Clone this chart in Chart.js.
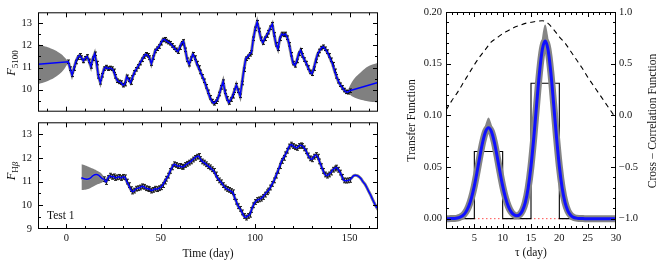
<!DOCTYPE html>
<html><head><meta charset="utf-8">
<script src="https://cdn.jsdelivr.net/npm/chart.js@4.4.0/dist/chart.umd.min.js"></script>
<style>
html,body{margin:0;padding:0;background:#fff;width:664px;height:267px;overflow:hidden}
canvas{position:absolute}
</style></head><body>
<canvas id="cA" width="392" height="124" style="left:0px;top:0px"></canvas>
<canvas id="cB" width="392" height="157" style="left:0px;top:110px"></canvas>
<canvas id="cC" width="284" height="267" style="left:380px;top:0px"></canvas>
<script>
// ---------- DATA ----------
// continuum F5100, daily from day 1
const fFlux = [11.26,10.95,10.67,10.95,11.25,11.45,11.55,11.45,11.3,11.42,
11.5,11.3,11.05,11.4,11.62,11.2,10.6,10.33,10.65,10.95,
11.02,10.95,10.98,10.95,10.85,10.6,10.4,10.35,10.32,10.2,
10.25,10.58,10.45,10.32,10.55,10.78,10.92,11.05,11.2,11.35,
11.5,11.6,11.55,11.45,11.18,11.45,11.75,11.85,11.95,12.1,
12.25,12.28,12.2,12.15,12.1,12.0,11.9,11.8,11.72,11.9,
12.1,12.18,11.8,11.35,11.15,11.4,11.6,11.45,11.2,11.0,
10.8,10.6,10.4,10.15,9.9,9.65,9.48,9.38,9.45,9.55,
9.8,10.1,10.36,9.9,9.6,9.42,9.55,9.7,9.95,10.2,
9.95,9.72,10.3,10.9,11.4,11.48,11.6,11.68,12.3,12.75,
13.05,12.7,12.3,12.13,12.3,12.45,12.6,12.8,12.96,12.5,
12.05,11.85,12.3,12.52,12.48,12.52,12.35,12.05,11.6,11.2,
11.1,11.3,11.62,11.78,11.55,11.36,11.2,11.0,10.8,10.72,
10.95,11.3,11.6,11.75,11.88,11.94,11.85,11.72,11.55,11.35,
11.15,10.85,10.6,10.38,10.22,10.1,9.98,9.9,9.88,9.95];
const fErr = 0.08;
const fExtT = [-15, 165];
const fExtV = [11.15, 10.32];
const fBandLT = [-15,-12,-9,-6,-3,-1,0,1.2];
const fBandLUp = [12.05,11.98,11.9,11.78,11.62,11.47,11.38,11.26];
const fBandLLo = [10.25,10.32,10.42,10.56,10.75,10.95,11.08,11.24];
const fBandRT = [148.7,150,152,155,158,161,165];
const fBandRUp = [9.9,10.15,10.45,10.72,10.95,11.1,11.22];
const fBandRLo = [9.86,9.78,9.66,9.56,9.5,9.45,9.42];

// H-beta, daily from day 20
const hFlux = [11.1,10.98,11.15,11.25,11.2,11.22,11.15,11.18,11.2,11.15,
11.2,11.18,11.0,10.85,10.68,10.58,10.62,10.7,10.72,10.75,
10.8,10.78,10.72,10.7,10.68,10.62,10.65,10.7,10.68,10.72,
10.76,10.85,11.0,11.12,11.25,11.45,11.6,11.73,11.7,11.65,
11.66,11.62,11.63,11.7,11.75,11.8,11.85,11.93,12.0,12.05,
12.08,11.95,11.85,11.8,11.73,11.65,11.6,11.52,11.45,11.3,
11.15,11.05,10.97,10.85,10.75,10.69,10.65,10.6,10.55,10.35,
10.15,9.96,9.85,9.7,9.55,9.48,9.55,9.6,9.8,10.0,
10.14,10.22,10.25,10.28,10.35,10.45,10.55,10.62,10.75,10.9,
11.05,11.25,11.45,11.65,11.87,12.0,12.15,12.3,12.48,12.56,
12.5,12.45,12.42,12.5,12.53,12.5,12.4,12.28,12.1,11.98,
11.94,12.05,12.12,12.05,11.85,11.65,11.45,11.3,11.25,11.3,
11.38,11.5,11.55,11.59,11.5,11.38,11.2,11.05,11.04,11.05,11.07];
const hErr = 0.1;
const hStartT = [8,9,10,11,12,13,14,15,16,17,18,19];
const hStartV = [11.17,11.13,11.11,11.1,11.12,11.17,11.24,11.29,11.3,11.27,11.2,11.12];
const hEndT = [151,152,153,154,155,156,157,158,159,160,161,162,163,164,165];
const hEndV = [11.15,11.24,11.27,11.25,11.2,11.12,11.0,10.9,10.76,10.6,10.45,10.27,10.1,9.95,9.85];
const hBandST = [8,10,12,14,16,18,19.5,20.8];
const hBandSUp = [11.73,11.68,11.62,11.55,11.47,11.38,11.25,11.09];
const hBandSLo = [10.65,10.66,10.7,10.78,10.87,10.93,10.98,11.05];
const hBandET = [150,152,154,156,158,160,162,164,165];
const hBandEUp = [11.1,11.27,11.3,11.18,10.97,10.7,10.38,10.07,9.99];
const hBandELo = [11.04,11.21,11.2,11.06,10.83,10.5,10.16,9.83,9.71];

// transfer function, lag 0..30 step 0.5
const tfVal = [0,0,0.0001,0.0002,0.0006,0.0015,0.0032,0.0065,0.0119,0.0202,
0.0317,0.0458,0.061,0.0747,0.0845,0.088,0.0845,0.0747,0.061,0.0458,
0.0317,0.0202,0.0119,0.0066,0.0037,0.0028,0.0039,0.0079,0.0157,0.0297,
0.0507,0.0788,0.1108,0.1415,0.1638,0.172,0.1638,0.1415,0.1108,0.0788,
0.0507,0.0297,0.0157,0.0076,0.0033,0.0013,0.0005,0.0002,0.0001,0,
0,0,0,0,0,0,0,0,0,0,0];
const tfHi = [0,0,0.0001,0.0002,0.0006,0.0015,0.0032,0.0065,0.0119,0.0202,
0.0317,0.0458,0.061,0.080,0.092,0.098,0.092,0.080,0.061,0.0458,
0.0317,0.0202,0.0119,0.0066,0.0037,0.0028,0.0039,0.0079,0.0157,0.0297,
0.0507,0.0788,0.1108,0.150,0.177,0.188,0.177,0.150,0.1108,0.0788,
0.0507,0.0297,0.0157,0.0076,0.0033,0.0013,0.0005,0.0002,0.0001,0,
0,0,0,0,0,0,0,0,0,0,0];
const boxEdges = [0,5,10,15,20,30];
const boxHeights = [0,0.065,0,0.131,0];
// cross-correlation, lag 0..30
const ccfVal = [0.05,0.14,0.22,0.31,0.40,0.49,0.57,0.64,0.71,0.75,
0.79,0.82,0.85,0.87,0.89,0.90,0.91,0.915,0.89,0.83,
0.76,0.70,0.62,0.54,0.46,0.37,0.29,0.21,0.13,0.05,-0.03];

// tick labels
const lcXTicks = [0,50,100,150];
const lcXMinor = [-10,10,20,30,40,60,70,80,90,110,120,130,140,160];
const fYTicks = [10,11,12,13];
const hYTicks = [9,10,11,12,13];
const lcYMajor = [9,10,11,12,13];
const lcYMinor = [9.5,10.5,11.5,12.5,13.5];
const tfXTicks = [5,10,15,20,25,30];
const tfXMinor = [1,2,3,4,6,7,8,9,11,12,13,14,16,17,18,19,21,22,23,24,26,27,28,29];
const tfYTicks = [0,0.05,0.10,0.15,0.20];
const tfYMinor = [0.01,0.02,0.03,0.04,0.06,0.07,0.08,0.09,0.11,0.12,0.13,0.14,0.16,0.17,0.18,0.19];
const ccfYTicks = [-1,-0.5,0,0.5,1];
const ccfYMinor = [-0.9,-0.8,-0.7,-0.6,-0.4,-0.3,-0.2,-0.1,0.1,0.2,0.3,0.4,0.6,0.7,0.8,0.9];

// ---------- helpers ----------
const pts = (xs, ys) => xs.map((x, i) => ({x, y: ys[i]}));
const fDays = fFlux.map((_, i) => i + 1);
const hDays = hFlux.map((_, i) => i + 20);
const tfLag = tfVal.map((_, i) => i * 0.5);
const ccfLag = ccfVal.map((_, i) => i);

const SERIF = "'Liberation Serif','DejaVu Serif',serif";
Chart.defaults.font.family = SERIF;
Chart.defaults.color = '#111';

const frame = {
  id: 'frame',
  afterDatasetsDraw(chart, args, o) {
    const {ctx, chartArea: a, scales} = chart;
    const L = a.left + 0.5, R = a.right - 0.5, T = a.top + 0.5, B = a.bottom - 0.5;
    ctx.save();
    ctx.strokeStyle = '#000'; ctx.lineWidth = 1;
    ctx.beginPath();
    const X = scales.x;
    const xt = (vals, len) => vals.forEach(v => {
      const p = Math.round(X.getPixelForValue(v)) + 0.5;
      if (p < L || p > R) return;
      ctx.moveTo(p, B); ctx.lineTo(p, B - len);
      ctx.moveTo(p, T); ctx.lineTo(p, T + len);
    });
    xt(o.xMajor, 4.5); xt(o.xMinor, 2.5);
    const yt = (sc, vals, len, side) => vals.forEach(v => {
      const p = Math.round(sc.getPixelForValue(v)) + 0.5;
      if (p < T || p > B) return;
      if (side !== 'r') { ctx.moveTo(L, p); ctx.lineTo(L + len, p); }
      if (side !== 'l') { ctx.moveTo(R, p); ctx.lineTo(R - len, p); }
    });
    if (o.rScale) {
      yt(scales.y, o.yMajor, 4.5, 'l'); yt(scales.y, o.yMinor, 2.5, 'l');
      yt(scales[o.rScale], o.rMajor, 4.5, 'r'); yt(scales[o.rScale], o.rMinor, 2.5, 'r');
    } else {
      yt(scales.y, o.yMajor, 4.5, 'b'); yt(scales.y, o.yMinor, 2.5, 'b');
    }
    ctx.stroke();
    ctx.strokeRect(L, T, R - L, B - T);
    ctx.restore();
  }
};

const errBars = {
  id: 'errBars',
  afterDatasetDraw(chart, args) {
    const ds = chart.data.datasets[args.index];
    if (!ds.err) return;
    const {ctx, chartArea: a} = chart;
    const X = chart.scales.x, Y = chart.scales.y;
    ctx.save();
    ctx.beginPath(); ctx.rect(a.left, a.top, a.width, a.height); ctx.clip();
    ctx.strokeStyle = ds.errColor; ctx.lineWidth = 1;
    ctx.beginPath();
    ds.data.forEach(p => {
      const x = Math.round(X.getPixelForValue(p.x)) + 0.5;
      const y1 = Y.getPixelForValue(p.y - ds.err), y2 = Y.getPixelForValue(p.y + ds.err);
      ctx.moveTo(x, y1); ctx.lineTo(x, y2);
      ctx.moveTo(x - 1.5, y1); ctx.lineTo(x + 1.5, y1);
      ctx.moveTo(x - 1.5, y2); ctx.lineTo(x + 1.5, y2);
    });
    ctx.stroke();
    ctx.restore();
  }
};

const texts = {
  id: 'texts',
  afterDraw(chart, args, o) {
    const ctx = chart.ctx;
    (o.items || []).forEach(it => {
      ctx.save();
      ctx.translate(it.x, it.y);
      ctx.rotate(it.rot || 0);
      ctx.fillStyle = '#111';
      ctx.textBaseline = 'alphabetic';
      let w = 0;
      it.parts.forEach(p => { ctx.font = p.font; p.w = ctx.measureText(p.t).width; w += p.w + (p.gap || 0); });
      let cx = it.align === 'left' ? 0 : -w / 2;
      it.parts.forEach(p => { ctx.font = p.font; ctx.fillText(p.t, cx, p.dy || 0); cx += p.w + (p.gap || 0); });
      ctx.restore();
    });
  }
};

const tickFont = {family: SERIF, size: 10.5};
const titleFont = {family: SERIF, size: 11.5};
const noGrid = {display: false, drawTicks: false, tickLength: 0};
const noBorder = {display: false};
const line = (data, color, width, extra) => Object.assign({data, borderColor: color, borderWidth: width, pointRadius: 0, fill: false, tension: 0}, extra || {});
const band = (data, fill) => ({data, borderWidth: 0, pointRadius: 0, fill: fill, backgroundColor: '#808080', tension: 0.4});
const common = {responsive: false, animation: false, devicePixelRatio: 1, events: []};

// ---------- Top-left: F5100 ----------
const fObs = pts(fDays, fFlux);
const fModel = [{x: fExtT[0], y: fExtV[0]}].concat(fObs, [{x: fExtT[1], y: fExtV[1]}]);
new Chart(document.getElementById('cA'), {
  type: 'line',
  data: {datasets: [
    line(fModel, '#0000ff', 1.5),
    {data: fObs, showLine: false, pointRadius: 0, err: fErr, errColor: '#111'},
    line(fObs, '#8a8a8a', 3.2),
    band(pts(fBandLT, fBandLUp), '+1'),
    band(pts(fBandLT, fBandLLo), false),
    band(pts(fBandRT, fBandRUp), '+1'),
    band(pts(fBandRT, fBandRLo), false)
  ]},
  options: Object.assign({}, common, {
    layout: {padding: {left: 0, top: 12, right: 14, bottom: 4}},
    scales: {
      x: {type: 'linear', min: -15, max: 165, display: false},
      y: {min: 9, max: 13.5, grid: noGrid, border: noBorder,
          afterFit(s) { s.width = 38; },
          afterBuildTicks(s) { s.ticks = fYTicks.map(v => ({value: v})); },
          ticks: {padding: 6, font: tickFont, color: '#111'}}
    },
    plugins: {legend: {display: false}, tooltip: {enabled: false},
      frame: {xMajor: lcXTicks, xMinor: lcXMinor, yMajor: lcYMajor, yMinor: lcYMinor},
      texts: {items: [{x: 11, y: 63, rot: -Math.PI / 2, parts: [
        {t: 'F', font: 'italic 12.5px ' + SERIF, dy: 4},
        {t: '5100', font: '9px ' + SERIF, dy: 6.5}]}]}}
  }),
  plugins: [frame, errBars, texts]
});

// ---------- Bottom-left: H-beta ----------
const hObs = pts(hDays, hFlux);
const hModel = pts(hStartT, hStartV).concat(hObs, pts(hEndT, hEndV));
new Chart(document.getElementById('cB'), {
  type: 'line',
  data: {datasets: [
    line(hModel, '#0000ff', 1.5, {tension: 0.35}),
    {data: hObs, showLine: false, pointRadius: 0, err: hErr, errColor: '#222'},
    line(hModel, '#8a8a8a', 3, {tension: 0.35}),
    band(pts(hBandST, hBandSUp), '+1'),
    band(pts(hBandST, hBandSLo), false),
    band(pts(hBandET, hBandEUp), '+1'),
    band(pts(hBandET, hBandELo), false)
  ]},
  options: Object.assign({}, common, {
    layout: {padding: {left: 0, top: 9, right: 14, bottom: 0}},
    scales: {
      x: {type: 'linear', min: -15, max: 165, grid: noGrid, border: noBorder,
          afterFit(s) { s.height = 38; },
          afterBuildTicks(s) { s.ticks = lcXTicks.map(v => ({value: v})); },
          ticks: {padding: 3, font: tickFont, color: '#111', maxRotation: 0},
          title: {display: true, text: 'Time (day)', font: titleFont, color: '#111', padding: {top: 0, bottom: 6}}},
      y: {min: 9, max: 13.5, grid: noGrid, border: noBorder,
          afterFit(s) { s.width = 38; },
          afterBuildTicks(s) { s.ticks = hYTicks.map(v => ({value: v})); },
          ticks: {padding: 6, font: tickFont, color: '#111'}}
    },
    plugins: {legend: {display: false}, tooltip: {enabled: false},
      frame: {xMajor: lcXTicks, xMinor: lcXMinor, yMajor: lcYMajor, yMinor: lcYMinor},
      texts: {items: [
        {x: 11, y: 61, rot: -Math.PI / 2, parts: [
          {t: 'F', font: 'italic 12.5px ' + SERIF, dy: 4},
          {t: 'H', font: '9px ' + SERIF, dy: 6.5},
          {t: 'β', font: 'italic 9px ' + SERIF, dy: 6.5}]},
        {x: 47, y: 109, align: 'left', parts: [{t: 'Test 1', font: '11.5px ' + SERIF}]}
      ]}}
  }),
  plugins: [frame, errBars, texts]
});

// ---------- Right: transfer function ----------
const boxPts = [];
boxHeights.forEach((h, i) => { boxPts.push({x: boxEdges[i], y: h}); boxPts.push({x: boxEdges[i + 1], y: h}); });
new Chart(document.getElementById('cC'), {
  type: 'line',
  data: {datasets: [
    line(pts(tfLag, tfVal), '#1010ff', 3, {cubicInterpolationMode: 'monotone'}),
    line(pts(tfLag, tfVal), '#858585', 7, {cubicInterpolationMode: 'monotone'}),
    {data: pts(tfLag, tfHi), borderWidth: 0, pointRadius: 0, fill: '-1', backgroundColor: '#858585', cubicInterpolationMode: 'monotone'},
    line(boxPts, '#000', 1.1),
    line([{x: 0, y: 0}, {x: 30, y: 0}], '#ff2020', 0.8, {borderDash: [1.5, 2.5]}),
    line(pts(ccfLag, ccfVal), '#000', 1.1, {yAxisID: 'y2', borderDash: [5, 4], cubicInterpolationMode: 'monotone'})
  ]},
  options: Object.assign({}, common, {
    layout: {padding: {left: 0, top: 12, right: 0, bottom: 0}},
    scales: {
      x: {type: 'linear', min: 0, max: 30, grid: noGrid, border: noBorder,
          afterFit(s) { s.height = 38; },
          afterBuildTicks(s) { s.ticks = tfXTicks.map(v => ({value: v})); },
          ticks: {padding: 3, font: tickFont, color: '#111', maxRotation: 0},
          title: {display: true, text: 'τ (day)', font: titleFont, color: '#111', padding: {top: 0, bottom: 7}}},
      y: {min: -0.01, max: 0.20, grid: noGrid, border: noBorder,
          afterFit(s) { s.width = 66; },
          afterBuildTicks(s) { s.ticks = tfYTicks.map(v => ({value: v})); },
          ticks: {padding: 4, font: tickFont, color: '#111', callback: v => v.toFixed(2)},
          title: {display: true, text: 'Transfer Function', font: titleFont, color: '#111', padding: {top: 25, bottom: 0}}},
      y2: {position: 'right', min: -1.1, max: 1.0, grid: noGrid, border: noBorder,
          afterFit(s) { s.width = 48; },
          afterBuildTicks(s) { s.ticks = ccfYTicks.map(v => ({value: v})); },
          ticks: {padding: 3, font: tickFont, color: '#111', callback: v => (v < 0 ? '\u2212' : '') + Math.abs(v).toFixed(1)}}
    },
    plugins: {legend: {display: false}, tooltip: {enabled: false},
      frame: {xMajor: tfXTicks, xMinor: tfXMinor, yMajor: tfYTicks, yMinor: tfYMinor, rScale: 'y2', rMajor: ccfYTicks, rMinor: ccfYMinor},
      texts: {items: [{x: 276, y: 121, rot: -Math.PI / 2, parts: [{t: 'Cross \u2212 Correlation Function', font: '11.5px ' + SERIF}]}]}}
  }),
  plugins: [frame, texts]
});
</script>
</body></html>
